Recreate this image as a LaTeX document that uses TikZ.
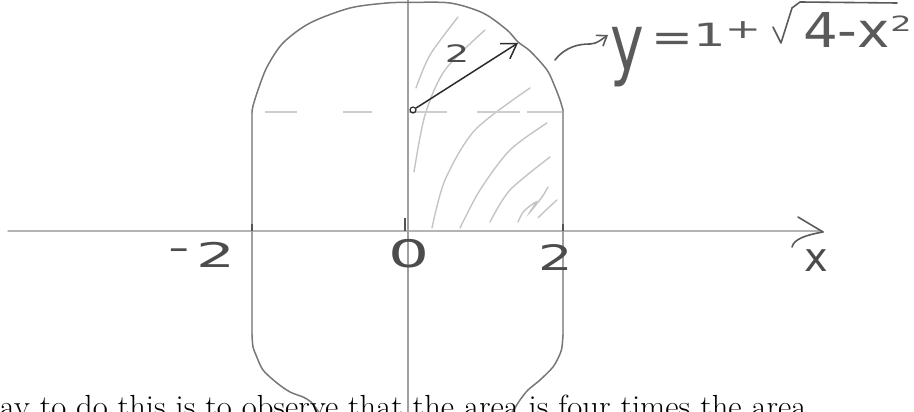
\documentclass[tikz,border=0pt]{standalone}
\usepackage{fontspec}
\usepackage{graphicx}
\usetikzlibrary{arrows.meta}
\newfontfamily\handfont{DejaVu Sans}
\definecolor{pencil}{HTML}{777777}
\definecolor{axisgray}{HTML}{B4B4B4}
\definecolor{guidegray}{HTML}{A0A0A0}
\definecolor{hatchgray}{HTML}{C4C4C4}
\definecolor{dashgray}{HTML}{CDCDCD}
\definecolor{inkdark}{HTML}{2C2C2C}
\definecolor{inkmid}{HTML}{5A5A5A}
% size (pt), horizontal stretch, text
\newcommand{\hwt}[3]{{\handfont\fontsize{#1}{#1}\selectfont\scalebox{#2}[1]{#3}}}
\tikzset{
  outline/.style={draw=pencil, line width=1.5pt, line cap=round, line join=round},
  axisline/.style={draw=axisgray, line width=1.4pt, line cap=round},
  guideline/.style={draw=guidegray, line width=1.2pt},
  hatchline/.style={draw=hatchgray, line width=1.4pt, line cap=round},
  dashseg/.style={draw=dashgray, line width=1.3pt},
  tickmark/.style={draw=pencil!70!black, line width=2.6pt},
  inkline/.style={draw=inkdark, line width=1.5pt, line cap=round, line join=round},
  penline/.style={draw=inkmid, line width=1.6pt, line cap=round, line join=round},
  tok/.style={inner sep=0pt, outer sep=0pt, anchor=base, text=inkmid},
  labtok/.style={inner sep=0pt, outer sep=0pt, anchor=base, text=inkdark!85},
  bodytext/.style={inner sep=0pt, outer sep=0pt, anchor=base west, text=black,
    font=\fontsize{32}{38}\selectfont}
}
\begin{document}
\begin{tikzpicture}[x=1pt,y=1pt]
\useasboundingbox (0,0) rectangle (914,412);
\clip (0,0) rectangle (914,412);

% hatching of the quarter region
\draw[hatchline] plot[smooth] coordinates {(416,324) (430,357) (458,395)};
\draw[hatchline] plot[smooth] coordinates {(414,240) (425,297) (445,342) (485,382)};
\draw[hatchline] plot[smooth] coordinates {(432,184) (445,232) (475,282) (530,324)};
\draw[hatchline] plot[smooth] coordinates {(460,184) (480,222) (510,262) (547,289)};
\draw[hatchline] plot[smooth] coordinates {(490,190) (510,222) (550,255)};
\draw[hatchline] plot[smooth] coordinates {(518,190) (524,201) (536,210) (530,200) (542,215) (548,225)};
\draw[hatchline] plot[smooth] coordinates {(538,194) (546,202) (557,212)};

% dashed guide y = 1
\draw[dashseg] (265,300) -- (297,300);
\draw[dashseg] (343,300) -- (372,300);
\draw[dashseg] (408,300) -- (447,300);
\draw[dashseg] (477,300) -- (520,300);
\draw[dashseg] (527,300) -- (563,300);

% axes
\coordinate (xstart) at (8,181);
\coordinate (xend) at (822,181);
\draw[axisline] (xstart) -- (xend);
\coordinate (xtip) at (823,180);
\draw[penline] (798,195) -- (xtip);
\draw[penline] (xtip) .. controls (806,177) and (794,173) .. (792,165);
\coordinate (ytop) at (408,413);
\coordinate (ybot) at (408,-2);
\draw[guideline] (ytop) -- (ybot);

% vertical sides
\draw[guideline] (252,300) -- (252,77);
\draw[guideline] (563,302) -- (563,77);

% ticks
\draw[tickmark] (405,181) -- (405,194);
\draw[tickmark, line width=2pt] (252,181) -- (252,188);
\draw[tickmark, line width=2pt] (563,181) -- (563,188);

% outline of the region
\draw[outline] plot[smooth] coordinates {(252,300) (253,306) (258,322) (267,345) (283,369) (310,389) (350,404) (387,409) (408,409.5) (450,409) (483,399) (507,382) (518,370) (530,361) (547,342) (555,325) (560,312) (563,302)};
\draw[outline] plot[smooth] coordinates {(252,77) (253,65) (256,57) (263,42) (277,29) (290,20) (303,15) (311,10) (318,1) (322,-5)};
\draw[outline] plot[smooth] coordinates {(563,77) (562,65) (560,58) (553,45) (540,32) (528,22) (520,12) (513,1) (508,-5)};

% radius arrow
\node[draw=inkdark, line width=1.2pt, circle, minimum size=6pt, inner sep=0pt] (ctr) at (413,302) {};
\coordinate (rtip) at (518,369);
\draw[inkline, -{Straight Barb[length=14pt, width=18pt, line width=1.5pt]}] (ctr) -- (rtip);
\node[labtok] (rlab) at (457,349) {\hwt{24}{1.6}{2}};

% axis labels
\node[labtok] (lminus) at (179,152) {\hwt{34}{1.75}{-}};
\node[labtok] (lmtwo) at (216,144) {\hwt{34}{1.8}{2}};
\node[labtok] (lzero) at (409,144) {\hwt{38}{1.7}{0}};
\node[labtok] (ltwo) at (556,141) {\hwt{35}{1.55}{2}};
\node[labtok] (lx) at (816,140) {\hwt{40}{1.0}{x}};

% equation with squiggle arrow
\coordinate (sqstart) at (555,352);
\coordinate (sqend) at (608,377);
\draw[penline, -{Straight Barb[length=9pt, width=13pt, line width=1.6pt]}] (sqstart) .. controls (566,366) and (580,368) .. (590,368) .. controls (597,368) and (602,373) .. (sqend);
\node[tok] (eqy) at (627,341) {\hwt{79}{0.72}{y}};
\node[tok] (eqeq) at (672,360) {\hwt{40}{1.25}{=}};
\node[tok] (eqone) at (710,365) {\hwt{32}{1.6}{1}};
\node[tok] (eqplus) at (743,373) {\hwt{27}{1.6}{+}};
\draw[penline] (773,385) -- (781,369) -- (792,404) -- (800,410) -- (897,409);
\node[tok] (eqarg) at (846.5,364) {\hwt{48}{1.14}{4-x}};
\node[tok] (eqsq) at (901,380) {\hwt{21}{1.6}{2}};

% typeset text at the bottom
\node[bodytext] (body) at (0,-5.2) {\scalebox{1.02}[1]{ay to do this is to observe that the area is four times the area}};
\end{tikzpicture}
\end{document}
